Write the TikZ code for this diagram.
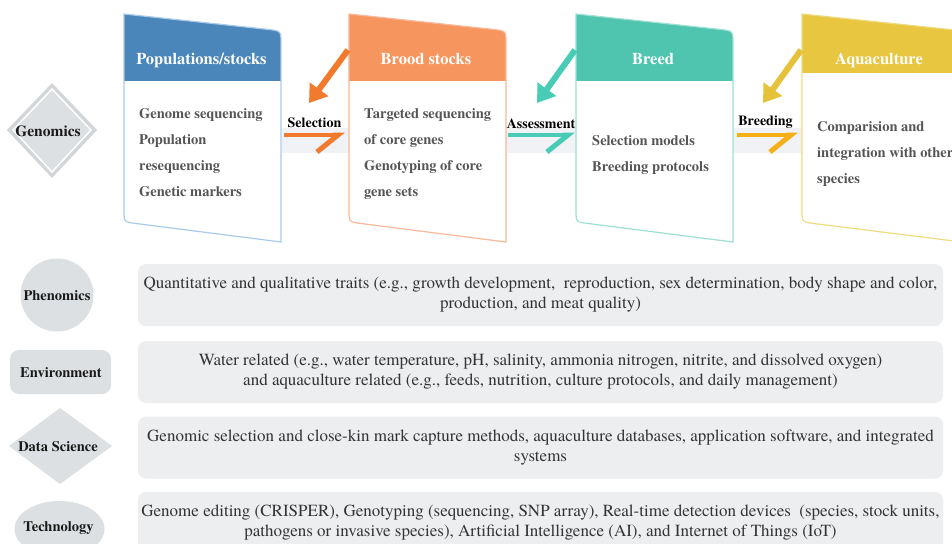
\documentclass[tikz,border=0pt]{standalone}
\usepackage{fontspec}
\setmainfont{texgyretermes}[Extension=.otf, UprightFont=*-regular, BoldFont=*-bold, ItalicFont=*-italic, BoldItalicFont=*-bolditalic]
\usepackage{xcolor}
\usepackage{tikz}
\usetikzlibrary{calc}
\usetikzlibrary{arrows.meta}
\usetikzlibrary{shapes}
\usetikzlibrary{positioning}
\usetikzlibrary{shapes.geometric}
\tikzset{>=latex}
\definecolor{popblue}{HTML}{4A86B9}
\definecolor{popline}{HTML}{A9CBEA}
\definecolor{broodorange}{HTML}{F6955E}
\definecolor{broodline}{HTML}{F9B898}
\definecolor{breedteal}{HTML}{4FC4AF}
\definecolor{breedline}{HTML}{9EE0D3}
\definecolor{aquayellow}{HTML}{E8C640}
\definecolor{aqualine}{HTML}{F0DC80}
\definecolor{selorange}{HTML}{F27A2C}
\definecolor{asstealc}{HTML}{48CCB6}
\definecolor{breedingc}{HTML}{F5B018}
\definecolor{pickyellow}{HTML}{E6C23A}
\definecolor{bandgray}{HTML}{F0F2F5}
\definecolor{panelgray}{HTML}{ECEEEF}
\definecolor{tagGray}{HTML}{DDE0E2}
\definecolor{tagline}{HTML}{D2D6D9}
\definecolor{bodygray}{HTML}{555555}
\definecolor{rowtext}{HTML}{343434}
\tikzstyle{head} = [font=\fontsize{16.5}{18}\selectfont\bfseries, text=white, inner sep=0pt, anchor=base]
\tikzstyle{cardtext} = [font=\fontsize{14.5}{26}\selectfont\bfseries, text=bodygray, align=left, anchor=north west, inner sep=0pt]
\tikzstyle{steplabel} = [font=\fontsize{14}{15}\selectfont\bfseries, inner sep=0pt, anchor=base]
\tikzstyle{tag} = [font=\fontsize{14.5}{16}\selectfont\bfseries, inner sep=0pt, text=black!90]
\tikzstyle{row} = [rectangle, rounded corners=8pt, fill=panelgray, minimum width=805pt, minimum height=62pt, inner sep=0pt, font=\fontsize{17}{20}\selectfont, text=rowtext, align=center]
\tikzstyle{pick} = [line width=6pt, -{Triangle[length=17pt,width=22pt]}]
\tikzstyle{flow} = [line width=4pt, -{Straight Barb[right,length=21pt,width=34pt,line width=5pt]}]
% card outline: left x, right x
\newcommand{\cardpath}[2]{(#1,14) -- ({#2-12},29.5) .. controls (#2,31) .. (#2,44) -- (#2,242) -- ({#1+12},223.5) .. controls (#1,222) .. (#1,210) -- cycle}
% card: left, right, header colour, outline colour, header bottom
\newcommand{\card}[5]{%
  \fill[white] \cardpath{#1}{#2};
  \begin{scope}
    \clip \cardpath{#1}{#2};
    \fill[#3] (#1,0) rectangle (#2,#5);
  \end{scope}
  \draw[#4, line width=1.2pt] \cardpath{#1}{#2};
}

\begin{document}
\begin{tikzpicture}[x=1pt, y=-1pt]
\useasboundingbox (0,0) rectangle (952,543);
\clip (0,0) rectangle (952,543);
\fill[white] (0,0) rectangle (952,543);
\fill[bandgray] (282,128) rectangle (802,153);

% top row of cards
\card{124}{281}{popblue}{popline}{81}
\card{349}{506}{broodorange}{broodline}{81}
\card{576}{733}{breedteal}{breedline}{81}
\card{802}{962}{aquayellow}{aqualine}{73}

\node[head] (popHead) at (201.5,64) {Populations/stocks};
\node[head] (broodHead) at (426,64) {Brood stocks};
\node[head] (breedHead) at (653,64) {Breed};
\node[head] (aquaHead) at (879,64) {Aquaculture};

\node[cardtext] (popText) at (139,108.5) {Genome sequencing\\Population\\resequencing\\Genetic markers};
\node[cardtext] (broodText) at (364,108.5) {Targeted sequencing\\of core genes\\Genotyping of core\\gene sets};
\node[cardtext] (breedText) at (592,135) {Selection models\\Breeding protocols};
\node[cardtext] (aquaText) at (817,121.5) {Comparision and\\integration with other\\species};

% arrows between the cards
\coordinate (popOut) at (284,135);
\coordinate (broodIn) at (345,135);
\coordinate (broodOut) at (508,135);
\coordinate (breedIn) at (575,135);
\coordinate (breedOut) at (737,135);
\coordinate (aquaIn) at (798,135);
\draw[flow, draw=selorange] (popOut) -- (broodIn);
\draw[flow, draw=asstealc] (broodOut) -- (breedIn);
\draw[flow, draw=breedingc] (breedOut) -- (aquaIn);
\node[steplabel] (selLabel) at (314.5,127.5) {Selection};
\node[steplabel] (assLabel) at (541,128) {Assessment};
\node[steplabel] (breedLabel) at (765.5,125) {Breeding};

\coordinate (broodTop) at (348,50);
\coordinate (selTip) at (309,103);
\coordinate (breedTop) at (575,50);
\coordinate (assTip) at (537,103);
\coordinate (aquaTop) at (801,50);
\coordinate (breedTip) at (763,103);
\draw[pick, draw=selorange] (broodTop) -- (selTip);
\draw[pick, draw=asstealc] (breedTop) -- (assTip);
\draw[pick, draw=pickyellow] (aquaTop) -- (breedTip);

% left tags
\fill[tagline] (52,83) -- (97,130) -- (52,178) -- (7,130) -- cycle;
\filldraw[tagGray, draw=white, line width=1.5pt] (52,89) -- (91,130) -- (52,172) -- (13,130) -- cycle;
\node[tag, font=\fontsize{15.5}{17}\selectfont\bfseries] (genomics) at (48,131) {Genomics};
\fill[tagGray] (57,295) circle (36.5pt);
\node[tag] (phenomics) at (57,296) {Phenomics};
\fill[tagGray, rounded corners=9pt] (10,350) rectangle (111,394);
\node[tag] (environment) at (61,372.5) {Environment};
\fill[tagGray] (60,408) -- (112,446) -- (60,484) -- (9,446) -- cycle;
\node[tag] (datasci) at (58,446.5) {Data Science};
\fill[tagGray] (59.5,529) ellipse (45pt and 28pt);
\node[tag] (technology) at (58.5,528) {Technology};

% rows
\node[row] (phenoRow) at (540.5,295) {Quantitative and qualitative traits (e.g., growth development,~ reproduction, sex determination, body shape and color,\\production, and meat quality)};
\node[row] (envRow) at (540.5,372) {Water related (e.g., water temperature, pH, salinity, ammonia nitrogen, nitrite, and dissolved oxygen)\\and aquaculture related (e.g., feeds, nutrition, culture protocols, and daily management)};
\node[row] (dataRow) at (540.5,447.5) {Genomic selection and close-kin mark capture methods, aquaculture databases, application software, and integrated\\systems};
\node[row] (techRow) at (540.5,523) {Genome editing (CRISPER), Genotyping (sequencing, SNP array), Real-time detection devices~ (species, stock units,\\pathogens or invasive species), Artificial Intelligence (AI), and Internet of Things (IoT)};
\end{tikzpicture}
\end{document}
